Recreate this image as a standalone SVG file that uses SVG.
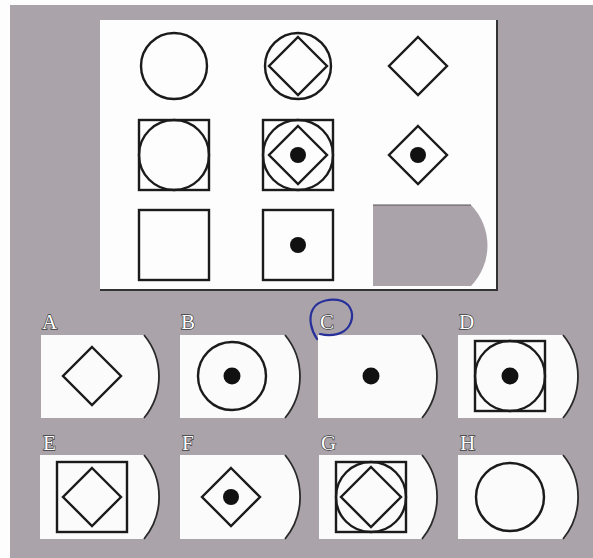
<svg xmlns="http://www.w3.org/2000/svg" width="593" height="558" viewBox="0 0 593 558">
<style>
.ln{fill:none;stroke:#1b1b1b;stroke-width:2.4}
.dot{fill:#111}
.card{fill:#fbfbfb}
.arc{fill:none;stroke:#2a2a2a;stroke-width:1.8}
.lbl{font-family:"Liberation Serif",serif;font-size:21px;fill:#fff;stroke:#3a3a3a;stroke-width:1.3;paint-order:stroke}
</style>
<rect x="0" y="0" width="593" height="558" fill="#fdfdfd"/>
<rect x="10" y="5" width="583" height="553" fill="#aaa3aa"/>
<g id="panel">
<rect x="100" y="20" width="397" height="270" fill="#fdfdfd"/>
<path d="M497,20 V290 H100" fill="none" stroke="#333" stroke-width="2"/>
</g>
<g id="cell11"><circle class="ln" cx="174" cy="66" r="33"/></g>
<g id="cell12"><circle class="ln" cx="298" cy="66" r="33"/><path class="ln" d="M298,37 L327,66 L298,95 L269,66 Z"/></g>
<g id="cell13"><path class="ln" d="M418,37 L447,66 L418,95 L389,66 Z"/></g>
<g id="cell21"><rect class="ln" x="139" y="120" width="70" height="70"/><circle class="ln" cx="174" cy="155" r="35"/></g>
<g id="cell22"><rect class="ln" x="263" y="120" width="70" height="70"/><circle class="ln" cx="298" cy="155" r="35"/><path class="ln" d="M298,126 L327,155 L298,184 L269,155 Z"/><circle class="dot" cx="298" cy="155" r="8"/></g>
<g id="cell23"><path class="ln" d="M418,126 L447,155 L418,184 L389,155 Z"/><circle class="dot" cx="418" cy="155" r="8"/></g>
<g id="cell31"><rect class="ln" x="139" y="210" width="70" height="70"/></g>
<g id="cell32"><rect class="ln" x="263" y="210" width="70" height="70"/><circle class="dot" cx="298" cy="245" r="8"/></g>
<g id="cell33"><path d="M373,205 H471 A58,58 0 0 1 471,286 H373 Z" fill="#aaa3aa"/><path d="M373,205 H471" stroke="#555" stroke-width="1.2" fill="none"/></g>

<g id="optA">
<path class="card" d="M41,335 H144 A65,65 0 0 1 144,418 H41 Z"/><path class="arc" d="M144,335 A65,65 0 0 1 144,418"/>
<path class="ln" d="M92,347 L121,376 L92,405 L63,376 Z"/>
<text class="lbl" x="42" y="329">A</text>
</g>
<g id="optB">
<path class="card" d="M180,335 H285 A65,65 0 0 1 285,418 H180 Z"/><path class="arc" d="M285,335 A65,65 0 0 1 285,418"/>
<circle class="ln" cx="232" cy="376" r="34"/><circle class="dot" cx="232" cy="376" r="8.5"/>
<text class="lbl" x="181" y="329">B</text>
</g>
<g id="optC">
<path class="card" d="M318,335 H422 A65,65 0 0 1 422,418 H318 Z"/><path class="arc" d="M422,335 A65,65 0 0 1 422,418"/>
<circle class="dot" cx="371" cy="376" r="8.5"/>
<text class="lbl" x="320" y="329">C</text>
<path d="M317,339 C311,330 308,318 313,309 C318,300 332,298 342,301 C352,305 355,316 349,326 C344,334 332,337 320,334" fill="none" stroke="#27309a" stroke-width="2.2" stroke-linecap="round"/>
</g>
<g id="optD">
<path class="card" d="M458,335 H563 A65,65 0 0 1 563,418 H458 Z"/><path class="arc" d="M563,335 A65,65 0 0 1 563,418"/>
<rect class="ln" x="475" y="341" width="70" height="70"/><circle class="ln" cx="510" cy="376" r="35"/><circle class="dot" cx="510" cy="376" r="8.5"/>
<text class="lbl" x="459" y="329">D</text>
</g>
<g id="optE">
<path class="card" d="M40,455 H144 A66,66 0 0 1 144,539 H40 Z"/><path class="arc" d="M144,455 A66,66 0 0 1 144,539"/>
<rect class="ln" x="57" y="462" width="70" height="70"/><path class="ln" d="M92,468 L121,497 L92,526 L63,497 Z"/>
<text class="lbl" x="43" y="450">E</text>
</g>
<g id="optF">
<path class="card" d="M180,455 H285 A66,66 0 0 1 285,539 H180 Z"/><path class="arc" d="M285,455 A66,66 0 0 1 285,539"/>
<path class="ln" d="M231,468 L260,497 L231,526 L202,497 Z"/><circle class="dot" cx="231" cy="497" r="8"/>
<text class="lbl" x="182" y="450">F</text>
</g>
<g id="optG">
<path class="card" d="M319,455 H422 A66,66 0 0 1 422,539 H319 Z"/><path class="arc" d="M422,455 A66,66 0 0 1 422,539"/>
<rect class="ln" x="336" y="462" width="70" height="70"/><circle class="ln" cx="371" cy="497" r="35"/><path class="ln" d="M371,467 L401,497 L371,527 L341,497 Z"/>
<text class="lbl" x="321" y="450">G</text>
</g>
<g id="optH">
<path class="card" d="M458,455 H563 A66,66 0 0 1 563,539 H458 Z"/><path class="arc" d="M563,455 A66,66 0 0 1 563,539"/>
<circle class="ln" cx="510" cy="497" r="34"/>
<text class="lbl" x="460" y="450">H</text>
</g>
<g id="connectors"/>
</svg>
